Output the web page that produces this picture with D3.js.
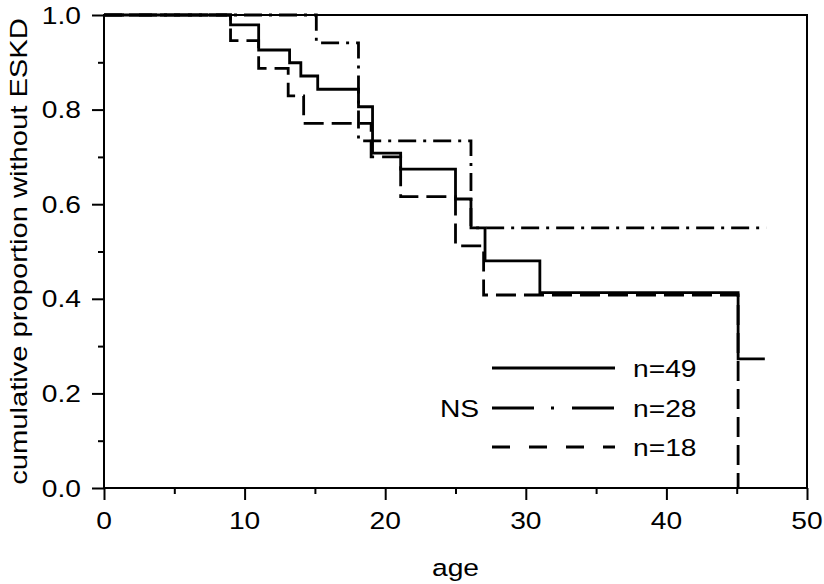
<!DOCTYPE html>
<html>
<head>
<meta charset="utf-8">
<script src="https://cdn.jsdelivr.net/npm/d3@7/dist/d3.min.js"></script>
<style>
  html, body { margin: 0; padding: 0; background: #fff; }
  svg { display: block; }
  text { font-family: "Liberation Sans", Arial, Helvetica, sans-serif; fill: #000; }
</style>
</head>
<body>
<svg id="chart" width="824" height="584"></svg>
<script>
// ---- data ----
const xTicks = [0, 10, 20, 30, 40, 50];
const xMinorTicks = [5, 15, 25, 35, 45];
const yTicks = [0.0, 0.2, 0.4, 0.6, 0.8, 1.0];
const yMinorTicks = [0.1, 0.3, 0.5, 0.7, 0.9];

// n=49 (solid)
const solidTimes = [0, 9, 11, 13.2, 14, 15.2, 18.1, 19.1, 21.1, 25, 26.1, 27.1, 31, 45.1, 47];
const solidSurv  = [1, 0.979, 0.926, 0.899, 0.871, 0.843, 0.806, 0.708, 0.674, 0.611, 0.550, 0.480, 0.413, 0.273, 0.273];
// n=28 (dash-dot)
const dashDotTimes = [0, 15.1, 18.1, 26.1, 47.1];
const dashDotSurv  = [1, 0.941, 0.734, 0.550, 0.550];
// n=18 (dashed)
const dashedTimes = [0, 9, 11, 13.1, 14.2, 19.0, 21.1, 25.0, 27.0, 45.1];
const dashedSurv  = [1, 0.946, 0.887, 0.829, 0.771, 0.700, 0.616, 0.512, 0.408, 0];

const legendLabels = ["n=49", "n=28", "n=18"];
const legendNote = "NS";
const xTitle = "age";
const yTitle = "cumulative proportion without ESKD";

// ---- layout ----
const svg = d3.select("#chart");
const L = 104, R = 807, T = 15, B = 488;
const x = d3.scaleLinear().domain([0, 50]).range([L, R]);
const y = d3.scaleLinear().domain([0, 1]).range([B, T]);
const FS = 23.5, SX = 1.2;

function label(px, py, str, anchor, rot, fs) {
  const g = svg.append("g").attr("transform", `translate(${px},${py}) rotate(${rot || 0}) scale(${SX},1)`);
  g.append("text").attr("text-anchor", anchor).attr("font-size", fs || FS).text(str);
}

// frame
svg.append("rect").attr("x", L).attr("y", T).attr("width", R - L).attr("height", B - T)
  .attr("fill", "none").attr("stroke", "#000").attr("stroke-width", 2);

// x axis ticks
const xAxis = d3.axisBottom(x).tickValues(xTicks).tickSize(12).tickFormat("");
const gx = svg.append("g").attr("transform", `translate(0,${B})`).call(xAxis);
const xAxisMinor = d3.axisBottom(x).tickValues(xMinorTicks).tickSize(6).tickFormat("");
const gxm = svg.append("g").attr("transform", `translate(0,${B})`).call(xAxisMinor);
[gx, gxm].forEach(g => { g.select(".domain").remove(); g.selectAll("line").attr("stroke", "#000").attr("stroke-width", 2); });
xTicks.forEach(v => label(x(v), 529, String(v), "middle"));

// y axis ticks
const yAxis = d3.axisLeft(y).tickValues(yTicks).tickSize(12).tickFormat("");
const gy = svg.append("g").attr("transform", `translate(${L},0)`).call(yAxis);
const yAxisMinor = d3.axisLeft(y).tickValues(yMinorTicks).tickSize(6).tickFormat("");
const gym = svg.append("g").attr("transform", `translate(${L},0)`).call(yAxisMinor);
[gy, gym].forEach(g => { g.select(".domain").remove(); g.selectAll("line").attr("stroke", "#000").attr("stroke-width", 2); });
yTicks.forEach(v => label(81, y(v) + 8.5, d3.format(".1f")(v), "end"));

// titles
label((L + R) / 2, 576, xTitle, "middle");
label(27, (T + B) / 2, yTitle, "middle", -90, 24.3);

// curves
const line = d3.line().x(d => x(d[0])).y(d => y(d[1])).curve(d3.curveStepAfter);
const series = [
  { t: dashedTimes, s: dashedSurv, dash: "20,8" },
  { t: dashDotTimes, s: dashDotSurv, dash: "18,7,3,7" },
  { t: solidTimes, s: solidSurv, dash: null }
];
series.forEach(sr => {
  const pts = sr.t.map((t, i) => [t, sr.s[i]]);
  svg.append("path").attr("d", line(pts)).attr("fill", "none")
    .attr("stroke", "#000").attr("stroke-width", 2.8)
    .attr("stroke-dasharray", sr.dash);
});

// legend
const legY = [368, 408, 447];
const legDash = [null, "42,17,3,18", "18,19"];
legY.forEach((ly, i) => {
  svg.append("line").attr("x1", 492).attr("x2", 615).attr("y1", ly).attr("y2", ly)
    .attr("stroke", "#000").attr("stroke-width", 2.8).attr("stroke-dasharray", legDash[i]);
  label(633, ly + 8.5, legendLabels[i], "start");
});
label(440, legY[1] + 8.5, legendNote, "start");
</script>
</body>
</html>
